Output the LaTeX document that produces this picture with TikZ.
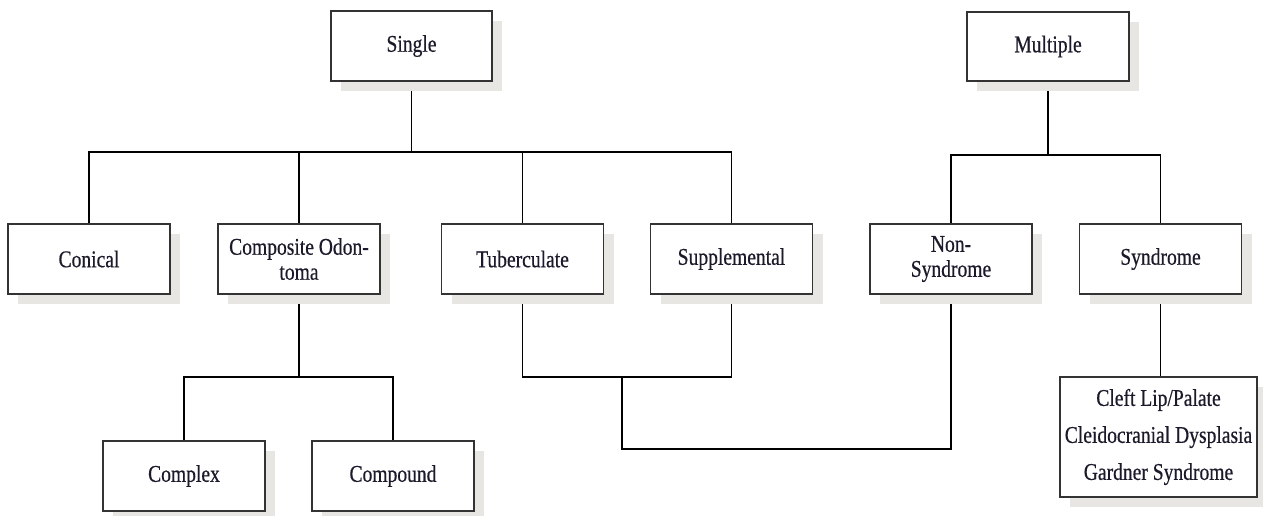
\documentclass[tikz,border=0pt]{standalone}
\usepackage{fontspec}
\setmainfont{Liberation Serif}[FakeStretch=0.815,FakeBold=0.5]
\usetikzlibrary{shadows,backgrounds}
\definecolor{shadowgrey}{HTML}{E8E6E2}
\definecolor{boxline}{HTML}{333333}
\definecolor{textcol}{HTML}{1A1A2A}
\tikzset{
  box/.style={draw=boxline, line width=1.6pt, fill=white, minimum width=162pt, minimum height=70pt,
    inner sep=0pt, align=center, text=textcol, font=\fontsize{24}{25}\selectfont,
    drop shadow={shadow xshift=10pt, shadow yshift=-10pt, fill=shadowgrey, opacity=1}},
  conn/.style={draw=black, line width=1.1pt}
}
\begin{document}
\begin{tikzpicture}[x=1pt,y=-1pt]
\useasboundingbox (0,0) rectangle (1263,515);
\node[box, minimum width=161pt] (single) at (411.5,46) {Single};
\node[box, minimum height=69pt] (mult) at (1048,46.5) {Multiple};
\node[box] (conical) at (89,259) {Conical};
\node[box] (comp) at (299,259) {Composite Odon-\\toma};
\node[box] (tub) at (522.5,259) {Tuberculate};
\node[box] (supp) at (731.5,259) {Supplemental};
\node[box] (nonsyn) at (951,259) {Non-\\Syndrome};
\node[box] (syn) at (1160.5,259) {Syndrome};
\node[box] (complex) at (184,476) {Complex};
\node[box] (compound) at (393,476) {Compound};
\node[box, minimum width=197pt, minimum height=120pt, font=\fontsize{24}{37}\selectfont] (cleft) at (1158.5,437)
  {Cleft Lip/Palate\\Cleidocranial Dysplasia\\Gardner Syndrome};
\coordinate (j1) at (411.5,152);
\coordinate (j2) at (299,377);
\coordinate (j3) at (622,377);
\coordinate (j4) at (622,449);
\coordinate (j5) at (1048,155);
\begin{pgfonlayer}{background}
\draw[conn] (single.south) -- (j1);
\draw[conn] (conical.north) |- (j1) -| (supp.north);
\draw[conn] (comp.north) -- (comp.north |- j1);
\draw[conn] (tub.north) -- (tub.north |- j1);
\draw[conn] (comp.south) -- (j2);
\draw[conn] (complex.north) |- (j2) -| (compound.north);
\draw[conn] (tub.south) |- (j3) -| (supp.south);
\draw[conn] (j3) -- (j4) -| (nonsyn.south);
\draw[conn] (mult.south) -- (j5);
\draw[conn] (nonsyn.north) |- (j5) -| (syn.north);
\draw[conn] (syn.south) -- (syn.south |- cleft.north);
\end{pgfonlayer}
\end{tikzpicture}
\end{document}
